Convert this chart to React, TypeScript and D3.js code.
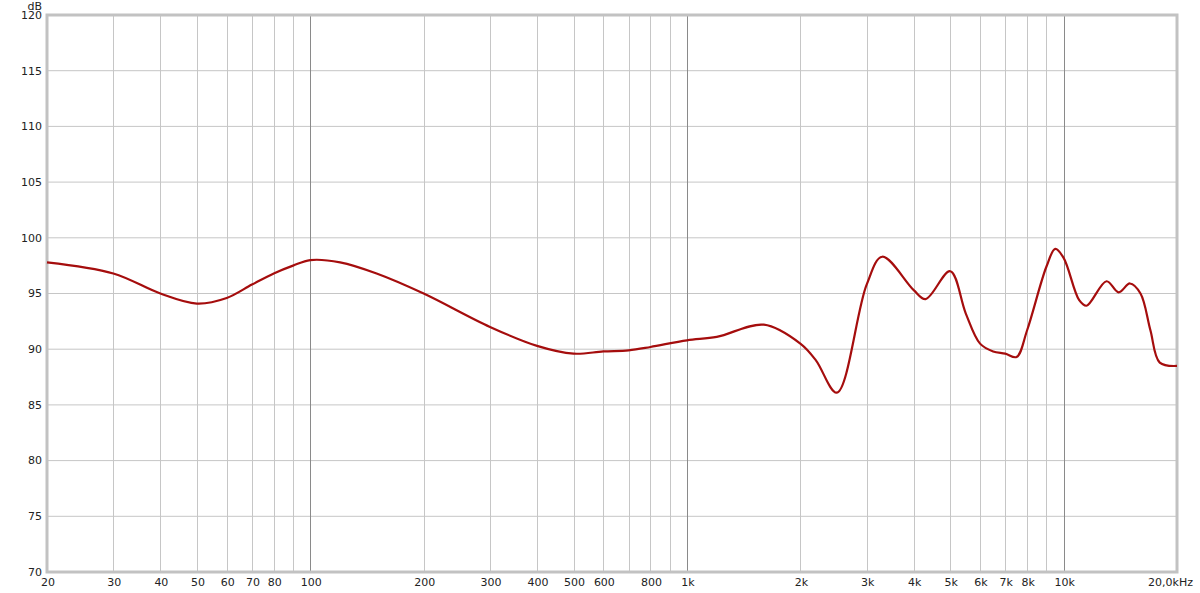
import React, { useEffect, useRef } from 'react';
import * as d3 from 'd3';

// frequency response
const freqs = [20, 30, 40, 50, 60, 70, 80, 90, 100, 120, 150, 200, 300, 400, 500, 600, 700, 800, 1000, 1200, 1600, 2000, 2200, 2500, 3000, 3300, 4000, 4300, 5000, 5500, 6000, 6500, 7000, 7500, 8000, 9000, 9500, 10000, 11000, 11500, 13000, 14000, 15000, 16000, 17000, 18000, 20000];
const levels = [97.8, 96.8, 95.0, 94.1, 94.6, 95.8, 96.8, 97.5, 98.0, 97.8, 96.8, 95.0, 92.0, 90.3, 89.6, 89.8, 89.9, 90.2, 90.8, 91.1, 92.2, 90.5, 89.0, 86.1, 95.8, 98.3, 95.3, 94.5, 97.0, 93.2, 90.5, 89.8, 89.6, 89.3, 91.7, 97.4, 99.0, 98.2, 94.4, 93.9, 96.1, 95.1, 95.9, 95.0, 91.7, 88.8, 88.5];

const dbTicks = [70, 75, 80, 85, 90, 95, 100, 105, 110, 115, 120];
const gridFreqs = [30, 40, 50, 60, 70, 80, 90, 100, 200, 300, 400, 500, 600, 700, 800, 900, 1000, 2000, 3000, 4000, 5000, 6000, 7000, 8000, 9000, 10000];
const decadeFreqs = [100, 1000, 10000];
const freqLabels: [number, string][] = [
  [20, '20'], [30, '30'], [40, '40'], [50, '50'], [60, '60'], [70, '70'], [80, '80'], [100, '100'],
  [200, '200'], [300, '300'], [400, '400'], [500, '500'], [600, '600'], [800, '800'], [1000, '1k'],
  [2000, '2k'], [3000, '3k'], [4000, '4k'], [5000, '5k'], [6000, '6k'], [7000, '7k'], [8000, '8k'], [10000, '10k'],
];

const App: React.FC = () => {
  const ref = useRef<SVGSVGElement | null>(null);

  useEffect(() => {
    document.body.style.margin = '0';
    if (!ref.current) return;
    const svg = d3.select(ref.current);
    svg.selectAll('*').remove();
    const width = 1200;
    const height = 593;
    const margin = { top: 15, right: 23, bottom: 21, left: 47 };
    const font = "'DejaVu Sans', Verdana, sans-serif";

    svg.attr('width', width).attr('height', height);

    const x = d3.scaleLog().domain([20, 20000]).range([margin.left, width - margin.right]);
    const y = d3.scaleLinear().domain([70, 120]).range([height - margin.bottom, margin.top]);

    // horizontal grid
    svg.append('g')
      .selectAll('line')
      .data(dbTicks.filter(d => d > 70 && d < 120))
      .enter().append('line')
      .attr('x1', margin.left).attr('x2', width - margin.right)
      .attr('y1', d => y(d)).attr('y2', d => y(d))
      .attr('stroke', '#c6c6c6').attr('stroke-width', 1);

    // vertical grid
    svg.append('g')
      .selectAll('line')
      .data(gridFreqs)
      .enter().append('line')
      .attr('x1', d => Math.round(x(d)) + 0.5).attr('x2', d => Math.round(x(d)) + 0.5)
      .attr('y1', margin.top).attr('y2', height - margin.bottom)
      .attr('stroke', d => decadeFreqs.includes(d) ? '#8a8a8a' : '#c6c6c6')
      .attr('stroke-width', 1);

    // frame
    svg.append('rect')
      .attr('x', margin.left).attr('y', margin.top)
      .attr('width', width - margin.left - margin.right)
      .attr('height', height - margin.top - margin.bottom)
      .attr('fill', 'none').attr('stroke', '#c2c2c2').attr('stroke-width', 3);

    // y labels
    svg.append('g')
      .selectAll('text')
      .data(dbTicks)
      .enter().append('text')
      .attr('x', 42).attr('y', d => y(d))
      .attr('dy', '0.35em')
      .attr('text-anchor', 'end')
      .attr('font-family', font).attr('font-size', 11)
      .attr('fill', '#222')
      .text(d => d);

    svg.append('text')
      .attr('x', 42).attr('y', 6).attr('dy', '0.35em')
      .attr('text-anchor', 'end')
      .attr('font-family', font).attr('font-size', 11).attr('fill', '#222')
      .text('dB');

    // x labels
    svg.append('g')
      .selectAll('text')
      .data(freqLabels)
      .enter().append('text')
      .attr('x', d => x(d[0]) + 1).attr('y', 582).attr('dy', '0.35em')
      .attr('text-anchor', 'middle')
      .attr('font-family', font).attr('font-size', 11).attr('fill', '#222')
      .text(d => d[1]);

    svg.append('text')
      .attr('x', 1193).attr('y', 582).attr('dy', '0.35em')
      .attr('text-anchor', 'end')
      .attr('font-family', font).attr('font-size', 11).attr('fill', '#222')
      .text('20,0kHz');

    // response curve
    const line = d3.line<number>()
      .x((_, i) => x(freqs[i]))
      .y(d => y(d))
      .curve(d3.curveCatmullRom.alpha(0.5));

    svg.append('path')
      .datum(levels)
      .attr('d', line)
      .attr('fill', 'none')
      .attr('stroke', '#a50d0d')
      .attr('stroke-width', 2.2)
      .attr('stroke-linejoin', 'round');
  }, []);

  return <svg ref={ref} style={{ display: 'block', background: '#fff' }} />;
};

export default App;
